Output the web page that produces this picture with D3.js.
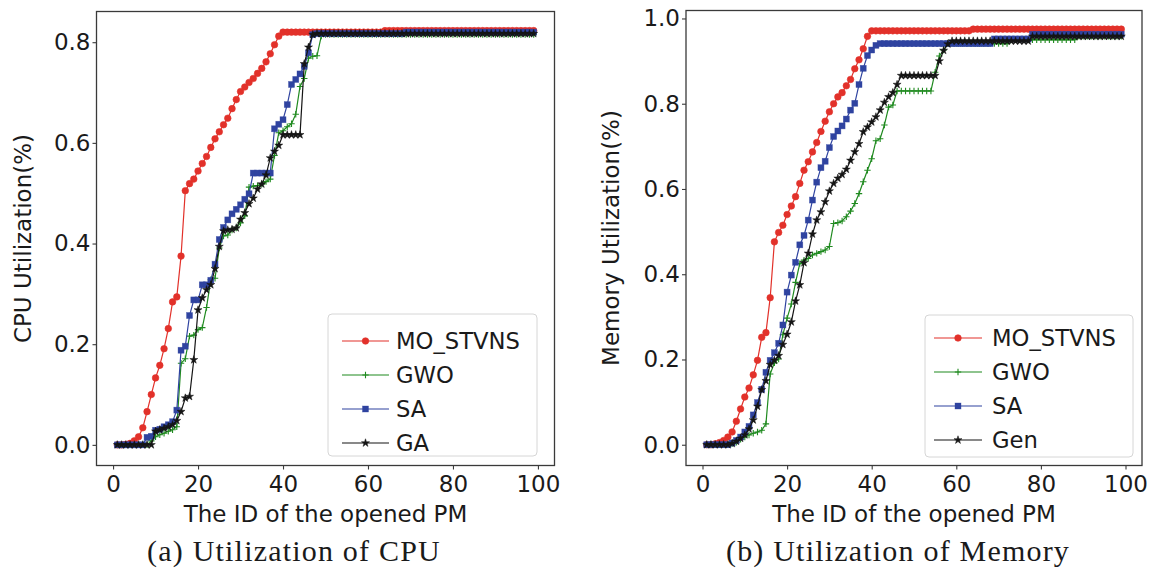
<!DOCTYPE html>
<html>
<head>
<meta charset="utf-8">
<script src="https://cdn.jsdelivr.net/npm/d3@7"></script>
<style>
  html, body { margin: 0; padding: 0; background: #fff; }
  svg { display: block; }
</style>
</head>
<body>
<svg id="chart" width="1153" height="573"></svg>
<script>
// PM ids 1..99 (the opened physical machines)
const pmIds = d3.range(1, 100);

// CPU utilization per opened PM
const cpuMO = [
  0.000,0.000,0.001,0.003,0.008,0.016,0.034,0.066,0.100,0.133,
  0.158,0.191,0.231,0.284,0.294,0.375,0.505,0.519,0.528,0.544,
  0.559,0.573,0.591,0.608,0.622,0.636,0.649,0.668,0.686,0.702,
  0.711,0.720,0.728,0.738,0.748,0.761,0.777,0.795,0.812,0.820,
  0.820,0.820,0.820,0.820,0.820,0.820,0.820,0.820,0.820,0.820,
  0.820,0.820,0.820,0.820,0.820,0.820,0.820,0.820,0.820,0.820,
  0.820,0.820,0.820,0.823,0.823,0.823,0.823,0.823,0.823,0.823,
  0.823,0.823,0.823,0.823,0.823,0.823,0.823,0.823,0.823,0.823,
  0.823,0.823,0.823,0.823,0.823,0.823,0.823,0.823,0.823,0.823,
  0.823,0.823,0.823,0.823,0.823,0.823,0.823,0.823,0.823];
const cpuGWO = [
  0.000,0.000,0.000,0.000,0.000,0.000,0.000,0.000,0.008,0.016,
  0.020,0.023,0.027,0.030,0.036,0.162,0.171,0.216,0.218,0.229,
  0.233,0.273,0.328,0.331,0.391,0.415,0.417,0.427,0.431,0.441,
  0.455,0.512,0.514,0.515,0.518,0.523,0.528,0.575,0.620,0.624,
  0.632,0.638,0.657,0.712,0.728,0.768,0.772,0.773,0.812,0.815,
  0.815,0.815,0.815,0.815,0.815,0.815,0.815,0.815,0.815,0.815,
  0.815,0.815,0.815,0.815,0.815,0.815,0.815,0.815,0.815,0.815,
  0.815,0.815,0.815,0.815,0.815,0.815,0.815,0.815,0.815,0.815,
  0.815,0.815,0.815,0.815,0.815,0.815,0.815,0.815,0.815,0.815,
  0.815,0.815,0.815,0.815,0.815,0.815,0.815,0.815,0.815];
const cpuSA = [
  0.000,0.000,0.000,0.000,0.000,0.000,0.000,0.015,0.017,0.029,
  0.031,0.036,0.040,0.046,0.069,0.188,0.196,0.257,0.288,0.288,
  0.318,0.318,0.327,0.359,0.408,0.432,0.447,0.459,0.468,0.477,
  0.488,0.499,0.540,0.540,0.540,0.540,0.540,0.628,0.637,0.646,
  0.676,0.716,0.726,0.737,0.752,0.779,0.815,0.817,0.817,0.817,
  0.817,0.817,0.817,0.817,0.817,0.817,0.817,0.817,0.817,0.817,
  0.817,0.817,0.817,0.817,0.817,0.817,0.817,0.817,0.820,0.820,
  0.820,0.820,0.820,0.820,0.820,0.820,0.820,0.820,0.820,0.820,
  0.820,0.820,0.820,0.820,0.820,0.820,0.820,0.820,0.820,0.820,
  0.820,0.820,0.820,0.820,0.820,0.820,0.820,0.820,0.820];
const cpuGA = [
  0.000,0.000,0.000,0.000,0.000,0.000,0.000,0.000,0.000,0.027,
  0.030,0.033,0.036,0.040,0.048,0.066,0.093,0.096,0.169,0.268,
  0.292,0.308,0.318,0.350,0.394,0.425,0.427,0.428,0.431,0.448,
  0.461,0.479,0.490,0.508,0.518,0.536,0.570,0.583,0.595,0.616,
  0.616,0.616,0.616,0.616,0.757,0.790,0.815,0.817,0.817,0.817,
  0.817,0.817,0.817,0.817,0.817,0.817,0.817,0.817,0.817,0.817,
  0.817,0.817,0.817,0.817,0.817,0.817,0.817,0.817,0.817,0.817,
  0.817,0.817,0.817,0.817,0.817,0.817,0.817,0.817,0.817,0.817,
  0.817,0.817,0.817,0.817,0.817,0.817,0.817,0.817,0.817,0.817,
  0.817,0.817,0.817,0.817,0.817,0.817,0.817,0.817,0.817];

// Memory utilization per opened PM
const memMO = [
  0.000,0.000,0.002,0.005,0.010,0.018,0.030,0.055,0.084,0.112,
  0.133,0.164,0.198,0.252,0.263,0.345,0.476,0.498,0.515,0.540,
  0.560,0.582,0.613,0.644,0.664,0.687,0.709,0.735,0.759,0.781,
  0.800,0.816,0.826,0.842,0.857,0.882,0.903,0.929,0.958,0.971,
  0.971,0.971,0.971,0.971,0.971,0.971,0.971,0.971,0.971,0.971,
  0.971,0.971,0.971,0.971,0.971,0.971,0.971,0.971,0.971,0.971,
  0.971,0.971,0.971,0.975,0.975,0.975,0.975,0.975,0.975,0.975,
  0.975,0.975,0.975,0.975,0.975,0.975,0.975,0.975,0.975,0.975,
  0.975,0.975,0.975,0.975,0.975,0.975,0.975,0.975,0.975,0.975,
  0.975,0.975,0.975,0.975,0.975,0.975,0.975,0.975,0.975];
const memGWO = [
  0.000,0.000,0.000,0.000,0.000,0.000,0.002,0.006,0.013,0.018,
  0.023,0.027,0.030,0.034,0.049,0.166,0.192,0.201,0.258,0.297,
  0.330,0.381,0.425,0.433,0.437,0.445,0.449,0.453,0.457,0.465,
  0.519,0.521,0.525,0.535,0.548,0.566,0.589,0.617,0.644,0.671,
  0.713,0.718,0.750,0.792,0.797,0.830,0.830,0.830,0.830,0.830,
  0.830,0.830,0.830,0.830,0.874,0.912,0.926,0.941,0.941,0.941,
  0.941,0.941,0.941,0.941,0.941,0.941,0.941,0.941,0.941,0.941,
  0.941,0.941,0.950,0.950,0.950,0.950,0.950,0.950,0.950,0.950,
  0.950,0.950,0.950,0.950,0.950,0.950,0.950,0.950,0.958,0.958,
  0.958,0.958,0.958,0.958,0.958,0.958,0.958,0.958,0.958];
const memSA = [
  0.000,0.000,0.000,0.000,0.000,0.000,0.004,0.010,0.018,0.030,
  0.043,0.070,0.099,0.130,0.170,0.198,0.216,0.238,0.281,0.358,
  0.398,0.428,0.469,0.491,0.527,0.574,0.616,0.650,0.665,0.697,
  0.723,0.736,0.748,0.764,0.785,0.801,0.845,0.883,0.913,0.926,
  0.937,0.941,0.941,0.941,0.941,0.941,0.941,0.941,0.941,0.941,
  0.941,0.941,0.941,0.941,0.941,0.941,0.941,0.941,0.941,0.941,
  0.941,0.941,0.941,0.941,0.941,0.941,0.941,0.941,0.952,0.952,
  0.952,0.952,0.952,0.952,0.952,0.952,0.952,0.963,0.963,0.963,
  0.963,0.963,0.963,0.963,0.963,0.963,0.963,0.963,0.963,0.963,
  0.963,0.963,0.963,0.963,0.963,0.963,0.963,0.963,0.963];
const memGen = [
  0.000,0.000,0.000,0.000,0.000,0.000,0.003,0.008,0.015,0.023,
  0.037,0.058,0.090,0.129,0.150,0.188,0.198,0.209,0.235,0.259,
  0.288,0.337,0.375,0.427,0.449,0.494,0.527,0.546,0.570,0.595,
  0.613,0.625,0.634,0.646,0.667,0.687,0.706,0.734,0.745,0.757,
  0.769,0.785,0.803,0.816,0.826,0.845,0.866,0.866,0.866,0.866,
  0.866,0.866,0.866,0.866,0.866,0.900,0.925,0.940,0.947,0.947,
  0.947,0.947,0.947,0.947,0.947,0.947,0.947,0.947,0.947,0.947,
  0.947,0.947,0.947,0.947,0.947,0.947,0.947,0.958,0.958,0.958,
  0.958,0.958,0.958,0.958,0.958,0.958,0.958,0.958,0.958,0.958,
  0.958,0.958,0.958,0.958,0.958,0.958,0.958,0.958,0.958];

// Axis ticks and text
const xTicks = [0, 20, 40, 60, 80, 100];
const cpuYTicks = [0.0, 0.2, 0.4, 0.6, 0.8];
const memYTicks = [0.0, 0.2, 0.4, 0.6, 0.8, 1.0];
const cpuNames = ["MO_STVNS", "GWO", "SA", "GA"];
const memNames = ["MO_STVNS", "GWO", "SA", "Gen"];
const xTitle = "The ID of the opened PM";
const captions = ["(a)  Utilization of CPU", "(b)  Utilization of Memory"];

// Series styling: colour and marker kind (in plotting order)
const styles = [
  { color: "#e2312a", marker: "circle" },
  { color: "#1f8a1f", marker: "plus" },
  { color: "#2f43a0", marker: "square" },
  { color: "#151515", marker: "star" }
];

const svg = d3.select("#chart");
svg.append("rect").attr("width", 1153).attr("height", 573).attr("fill", "#fff");

const FONT = "DejaVu Sans, Verdana, sans-serif";
const FS = 23;

function drawMarker(g, kind, color, cx, cy) {
  if (kind === "circle") {
    g.append("circle").attr("cx", cx).attr("cy", cy).attr("r", 3.3)
      .attr("fill", color).attr("stroke", color).attr("stroke-width", 0.6);
  } else if (kind === "square") {
    g.append("rect").attr("x", cx - 3).attr("y", cy - 3)
      .attr("width", 6).attr("height", 6)
      .attr("fill", color).attr("stroke", color).attr("stroke-width", 0.6).attr("stroke-opacity", 0.6);
  } else if (kind === "plus") {
    g.append("path").attr("d", `M${cx - 3.2},${cy}H${cx + 3.2}M${cx},${cy - 3.2}V${cy + 3.2}`)
      .attr("stroke", color).attr("stroke-width", 1.1).attr("fill", "none");
  } else {
    g.append("path").attr("transform", `translate(${cx},${cy})`)
      .attr("d", d3.symbol(d3.symbolStar, 20)())
      .attr("fill", color).attr("stroke", color).attr("stroke-width", 0.5);
  }
}

function panel(cfg) {
  const x = d3.scaleLinear().domain([-3.9, 103.9]).range([cfg.left, cfg.right]);
  const y = d3.scaleLinear().domain(cfg.yDomain).range([cfg.bottom, cfg.top]);
  const g = svg.append("g");

  // series lines and markers
  cfg.series.forEach((vals, i) => {
    const st = styles[i];
    const pts = pmIds.map((id, k) => [id, vals[k]]);
    const line = d3.line().x(d => x(d[0])).y(d => y(d[1]));
    g.append("path").datum(pts).attr("d", line)
      .attr("fill", "none").attr("stroke", st.color).attr("stroke-width", 1.2);
    const mg = g.append("g");
    pts.forEach(p => drawMarker(mg, st.marker, st.color, x(p[0]), y(p[1])));
  });

  // axes frame
  g.append("rect").attr("x", cfg.left).attr("y", cfg.top)
    .attr("width", cfg.right - cfg.left).attr("height", cfg.bottom - cfg.top)
    .attr("fill", "none").attr("stroke", "#3a3a3a").attr("stroke-width", 1.3);

  // x axis
  const xAxis = d3.axisBottom(x).tickValues(xTicks).tickSize(4).tickPadding(6)
    .tickFormat(d3.format("d"));
  const gx = g.append("g").attr("transform", `translate(0,${cfg.bottom})`).call(xAxis);
  gx.select(".domain").remove();
  gx.selectAll("line").attr("stroke", "#3a3a3a").attr("stroke-width", 1.1);
  gx.selectAll("text").attr("font-family", FONT).attr("font-size", FS).attr("fill", "#1a1a1a");

  // y axis
  const yAxis = d3.axisLeft(y).tickValues(cfg.yTicks).tickSize(4).tickPadding(2)
    .tickFormat(d3.format(".1f"));
  const gy = g.append("g").attr("transform", `translate(${cfg.left},0)`).call(yAxis);
  gy.select(".domain").remove();
  gy.selectAll("line").attr("stroke", "#3a3a3a").attr("stroke-width", 1.1);
  gy.selectAll("text").attr("font-family", FONT).attr("font-size", FS).attr("fill", "#1a1a1a");

  // axis titles
  g.append("text").attr("x", (cfg.left + cfg.right) / 2).attr("y", cfg.bottom + 56)
    .attr("text-anchor", "middle").attr("font-family", FONT).attr("font-size", FS)
    .attr("fill", "#1a1a1a").text(xTitle);
  g.append("text")
    .attr("transform", `translate(${cfg.yTitleX},${(cfg.top + cfg.bottom) / 2}) rotate(-90)`)
    .attr("text-anchor", "middle").attr("font-family", FONT).attr("font-size", FS)
    .attr("fill", "#1a1a1a").text(cfg.yTitle);

  // legend
  const L = cfg.legend;
  const lg = g.append("g");
  lg.append("rect").attr("x", L.x).attr("y", L.y).attr("width", L.w).attr("height", L.h)
    .attr("rx", 4).attr("fill", "#fff").attr("fill-opacity", 0.85)
    .attr("stroke", "#d6d6d6").attr("stroke-width", 1);
  cfg.names.forEach((name, i) => {
    const st = styles[i];
    const cy = L.rows[i];
    lg.append("line").attr("x1", L.lx0).attr("x2", L.lx1).attr("y1", cy).attr("y2", cy)
      .attr("stroke", st.color).attr("stroke-width", 1.2);
    drawMarker(lg, st.marker, st.color, (L.lx0 + L.lx1) / 2, cy);
    lg.append("text").attr("x", L.tx).attr("y", cy + 8).attr("font-family", FONT)
      .attr("font-size", 22.7).attr("fill", "#1a1a1a").text(name);
  });

  // caption
  svg.append("text").attr("x", cfg.capX).attr("y", 561).attr("text-anchor", "middle")
    .attr("font-family", "Liberation Serif, Times New Roman, serif").attr("font-size", 30)
    .attr("letter-spacing", 1.2).attr("fill", "#1a1a1a").text(cfg.caption);
}

panel({
  left: 96.5, right: 554.5, top: 11.5, bottom: 465.5,
  yDomain: [-0.041, 0.861], yTicks: cpuYTicks,
  series: [cpuMO, cpuGWO, cpuSA, cpuGA], names: cpuNames,
  yTitle: "CPU Utilization(%)", yTitleX: 31,
  legend: { x: 328, y: 314, w: 209, h: 142, lx0: 342, lx1: 389, tx: 396, rows: [341, 375, 409, 443] },
  caption: captions[0], capX: 294
});

panel({
  left: 686, right: 1142, top: 10.5, bottom: 465.5,
  yDomain: [-0.0487, 1.0187], yTicks: memYTicks,
  series: [memMO, memGWO, memSA, memGen], names: memNames,
  yTitle: "Memory Utilization(%)", yTitleX: 619,
  legend: { x: 925, y: 315, w: 208, h: 142, lx0: 934, lx1: 982, tx: 992, rows: [338, 372, 406, 440] },
  caption: captions[1], capX: 898
});
</script>
</body>
</html>
